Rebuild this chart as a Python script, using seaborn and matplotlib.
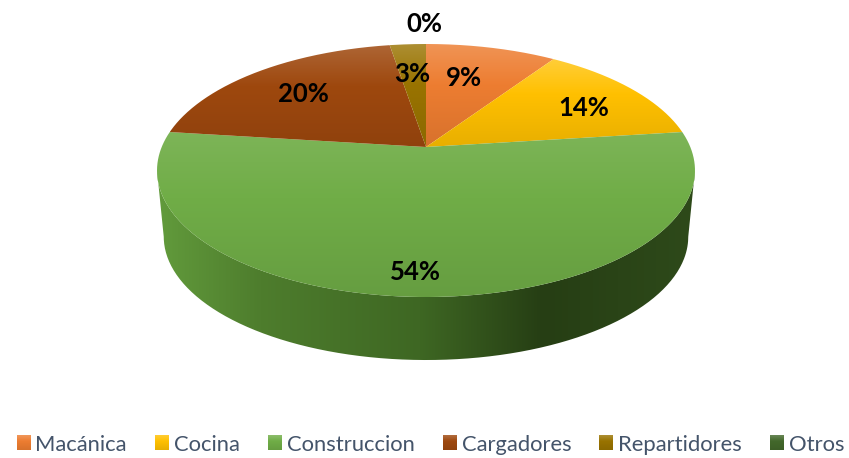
import numpy as np
import matplotlib
matplotlib.use("Agg")
import matplotlib.pyplot as plt
from matplotlib.path import Path
from matplotlib.patches import PathPatch, Patch
import seaborn as sns

categories = ["Macánica", "Cocina", "Construccion", "Cargadores", "Repartidores", "Otros"]
values = [9.4, 13.6, 54.0, 20.4, 2.6, 0.0]
colours = ["#ED7D31", "#FFC000", "#70AD47", "#9E480E", "#997300", "#43682B"]
top_light = [0.18, 0.22, 0.09, 0.16, 0.20, 0.2]

sns.set_theme(style="white")
plt.rcParams["font.family"] = ["Lato", "DejaVu Sans"]
palette = sns.color_palette(colours)

W, H = 849, 458
fig = plt.figure(figsize=(W / 100, H / 100), dpi=100)
ax = fig.add_axes([0, 0, 1, 1])

# the library works out the slice angles from the values
wedges, _ = ax.pie(values, colors=palette, startangle=90, counterclock=False)
angles = [(w.theta1, w.theta2) for w in wedges]
for w in wedges:
    w.remove()
ax.set_aspect("auto")

# perspective view of the unit disc, in picture pixels
CX, CY, BX, AY, K = 426.0, 147.0, 264.3, 94.83, -0.1858
SHRINK, DROP = 0.975, 66.75


def project(x, y, bottom=False):
    d = 1 - K * y
    px = BX * x / d
    py = (CY - AY * y) / d
    if bottom:
        px = px * SHRINK
        py = CY + (py - CY) * SHRINK + DROP
    return CX + px, py


def rim(t1, t2, bottom=False, n=240):
    t = np.radians(np.linspace(t1, t2, n))
    return project(np.cos(t), np.sin(t), bottom)


def shade(base, y01, light=0.2):
    base = np.array(base)
    stops = np.interp(y01, [0, 0.4, 1], [light, 0.0, -0.09])
    out = np.zeros((len(y01), 1, 3))
    for i, s in enumerate(stops):
        out[i, 0] = base + (1 - base) * s if s >= 0 else base * (1 + s)
    return out


def fill(img, x0, x1, y0, y1, path=None, z=2):
    im = ax.imshow(img, extent=(x0, x1, y1, y0), origin="upper",
                   interpolation="bilinear", aspect="auto", zorder=z)
    if path is not None:
        im.set_clip_path(PathPatch(path, transform=ax.transData))
    return im


# side wall of the disc, between the two silhouette points of the rim
tangent = np.degrees(np.arcsin(K))
tx, ty = rim(180 - tangent, 360 + tangent)
bx, by = rim(180 - tangent, 360 + tangent, bottom=True)
wall = Path(np.vstack([np.c_[tx, ty], np.c_[bx, by][::-1], [[tx[0], ty[0]]]]))
gx = np.linspace(150, 700, 300)
stops_x = [157, 260, 420, 543, 695]
wall_rgb = np.array([(98, 155, 60), (78, 125, 45), (62, 103, 35), (38, 62, 20), (46, 74, 26)]) / 255
wall_img = np.stack([np.interp(gx, stops_x, wall_rgb[:, c]) for c in range(3)], axis=-1)[None, :, :]
fill(wall_img, 150, 700, 100, 380, wall, z=1)

# top face
for (t1, t2), col, v, li in zip(angles, palette, values, top_light):
    if v == 0:
        continue
    x, y = rim(t1, t2)
    ox, oy = project(0.0, 0.0)
    pts = np.vstack([[[ox, oy]], np.c_[x, y], [[ox, oy]]])
    y0, y1 = pts[:, 1].min(), pts[:, 1].max()
    grad = shade(col, np.linspace(0, 1, 200), li)
    fill(grad, pts[:, 0].min(), pts[:, 0].max(), y0, y1, Path(pts))

# percentage labels
label_xy = [(464, 78.5), (584, 108.5), (415, 271.5), (303, 93.5), (412, 74.5), (424, 24)]
for v, (lx, ly) in zip(values, label_xy):
    ax.text(lx, ly, f"{v:.0f}%", ha="center", va="center", fontsize=18.5,
            fontweight="bold", color="black", zorder=5)

ax.set_xlim(0, W)
ax.set_ylim(H, 0)
ax.axis("off")

# legend
handles = [Patch(facecolor=c, edgecolor="none") for c in palette]
leg = ax.legend(handles, categories, ncols=6, loc="center",
                bbox_to_anchor=(430.5 / W, 1 - 445 / H),
                frameon=False, fontsize=15.8, labelcolor="#44546A", handlelength=0.62,
                handleheight=0.62, handletextpad=0.24, columnspacing=1.28, borderpad=0,
                borderaxespad=0)

fig.canvas.draw()
for h, col in zip(leg.legend_handles, palette):
    bb = h.get_window_extent().transformed(ax.transData.inverted())
    xa, xb = sorted((bb.x0, bb.x1))
    ya, yb = sorted((bb.y0, bb.y1))
    fill(shade(col, np.linspace(0, 1, 30)), xa, xb, ya, yb, z=6)
ax.set_xlim(0, W)
ax.set_ylim(H, 0)

fig.savefig("out.png", dpi=100, facecolor="white")
